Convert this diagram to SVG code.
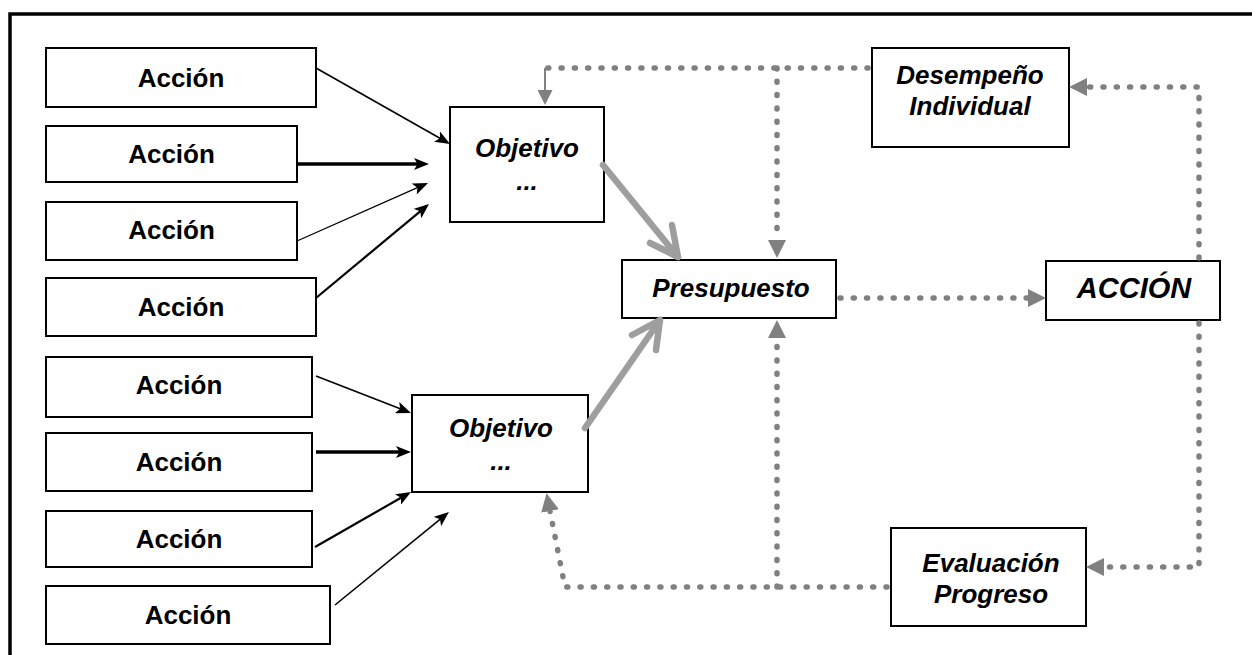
<svg xmlns="http://www.w3.org/2000/svg" width="1252" height="655" viewBox="0 0 1252 655">
<style>
.box{fill:#fff;stroke:#000;stroke-width:2}
.t{font-family:"Liberation Sans",Arial,sans-serif;font-weight:bold;font-size:26px;text-anchor:middle;fill:#000}
.i{font-style:italic}
.blk{fill:none;stroke:#000}
.dot{fill:none;stroke:#808080;stroke-width:5.5;stroke-dasharray:1 12.3;stroke-linecap:round;stroke-linejoin:round}
.big{fill:none;stroke:#9e9e9e;stroke-width:6.5;stroke-linecap:round;stroke-linejoin:round}
</style>
<defs>
<marker id="ah" markerUnits="userSpaceOnUse" markerWidth="15" markerHeight="12" viewBox="0 0 15 12" refX="9" refY="6" orient="auto">
<path d="M0,0 L15,6 L0,12 L3.5,6 z" fill="#000"/>
</marker>
<marker id="gt" markerUnits="userSpaceOnUse" markerWidth="18" markerHeight="18" viewBox="0 0 18 18" refX="0" refY="9" orient="auto">
<path d="M0,0 L18,9 L0,18 z" fill="#808080"/>
</marker>
<marker id="gs" markerUnits="userSpaceOnUse" markerWidth="15" markerHeight="15" viewBox="0 0 15 15" refX="0" refY="7.5" orient="auto">
<path d="M0,0 L15,7.5 L0,15 z" fill="#808080"/>
</marker>
</defs>
<rect width="1252" height="655" fill="#fff"/>
<path d="M10,655 L10,14 L1252,14" fill="none" stroke="#000" stroke-width="3.5"/>

<g id="accion1"><rect class="box" x="46" y="48" width="270" height="59"/><text class="t" x="181" y="87">Acción</text></g>
<g id="accion2"><rect class="box" x="46" y="126" width="251" height="56"/><text class="t" x="171.5" y="163">Acción</text></g>
<g id="accion3"><rect class="box" x="46" y="202" width="251" height="58"/><text class="t" x="171.5" y="239">Acción</text></g>
<g id="accion4"><rect class="box" x="46" y="278" width="270" height="58"/><text class="t" x="181" y="316">Acción</text></g>
<g id="accion5"><rect class="box" x="46" y="357" width="266" height="60"/><text class="t" x="179" y="394">Acción</text></g>
<g id="accion6"><rect class="box" x="46" y="433" width="266" height="58"/><text class="t" x="179" y="471">Acción</text></g>
<g id="accion7"><rect class="box" x="46" y="511" width="266" height="56"/><text class="t" x="179" y="548">Acción</text></g>
<g id="accion8"><rect class="box" x="46" y="586" width="284" height="58"/><text class="t" x="188" y="624">Acción</text></g>

<g id="objetivo1"><rect class="box" x="450" y="107" width="154" height="115"/><text class="t i" x="527" y="157">Objetivo</text><text class="t i" x="527" y="190">...</text></g>
<g id="objetivo2"><rect class="box" x="412" y="395" width="176" height="97"/><text class="t i" x="501" y="437">Objetivo</text><text class="t i" x="501" y="470">...</text></g>
<g id="presupuesto"><rect class="box" x="622" y="260" width="214" height="58"/><text class="t i" x="731" y="297">Presupuesto</text></g>
<g id="desempeno"><rect class="box" x="872" y="48" width="197" height="99"/><text class="t i" x="970" y="84">Desempeño</text><text class="t i" x="970" y="115">Individual</text></g>
<g id="accion-main"><rect class="box" x="1046" y="261" width="174" height="59"/><text class="t i" x="1134" y="298" style="font-size:29px">ACCIÓN</text></g>
<g id="evaluacion"><rect class="box" x="891" y="528" width="195" height="98"/><text class="t i" x="991" y="572">Evaluación</text><text class="t i" x="991" y="603">Progreso</text></g>

<g id="connectors">
<path class="blk" stroke-width="1.6" d="M316,68 L444.8,141" marker-end="url(#ah)"/>
<path class="blk" stroke-width="3.5" d="M297,164 L423,164" marker-end="url(#ah)"/>
<path class="blk" stroke-width="1.3" d="M297,241 L422.5,185.4" marker-end="url(#ah)"/>
<path class="blk" stroke-width="2.2" d="M316,298 L424.4,207.8" marker-end="url(#ah)"/>
<path class="blk" stroke-width="1.6" d="M316,376 L405.4,410.8" marker-end="url(#ah)"/>
<path class="blk" stroke-width="3.5" d="M316,452 L405,452" marker-end="url(#ah)"/>
<path class="blk" stroke-width="2.2" d="M315,547 L405.8,495" marker-end="url(#ah)"/>
<path class="blk" stroke-width="1.6" d="M335,605 L444.3,515.8" marker-end="url(#ah)"/>

<path class="big" d="M603,165 L678,257 M650,243 L678,257 L672,225"/>
<path class="big" d="M585,428 L660,320 M632,335 L660,320 L656,350"/>

<path class="dot" d="M868,68 L545,68"/>
<path d="M545,68 L545,90" stroke="#808080" stroke-width="2" fill="none" marker-end="url(#gs)"/>
<path class="dot" d="M777,68 L777,240" marker-end="url(#gt)"/>
<path class="dot" d="M840,298 L1028,298" marker-end="url(#gt)"/>
<path class="dot" d="M1199,258 L1199,87 L1087,87" marker-end="url(#gt)"/>
<path class="dot" d="M1199,323 L1199,567 L1104,567" marker-end="url(#gt)"/>
<path class="dot" d="M887,587 L565,587 L550,511" marker-end="url(#gt)"/>
<path class="dot" d="M777,587 L777,338" marker-end="url(#gt)"/>
</g>
</svg>
